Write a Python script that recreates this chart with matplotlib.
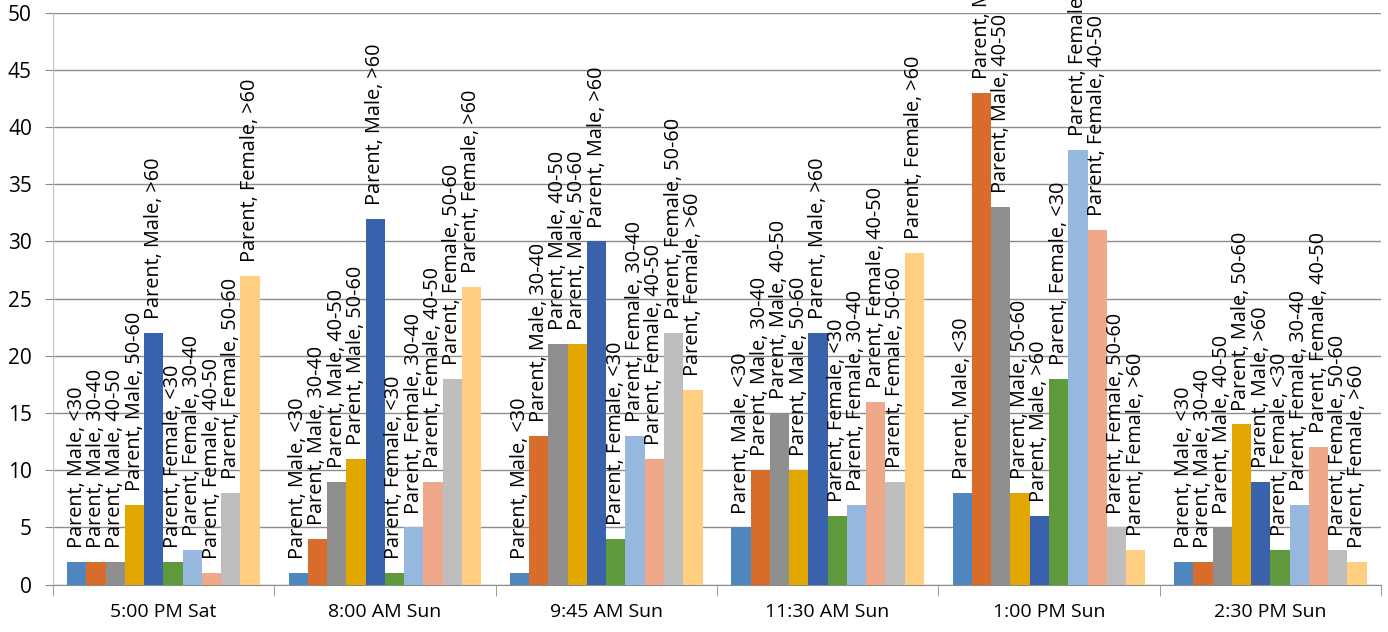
import numpy as np
import matplotlib.pyplot as plt

plt.rcParams['font.family'] = ['Open Sans', 'DejaVu Sans']

# Time slots (x categories)
times = ["5:00 PM Sat", "8:00 AM Sun", "9:45 AM Sun", "11:30 AM Sun", "1:00 PM Sun", "2:30 PM Sun"]

# Series names
series = ["Parent, Male, <30", "Parent, Male, 30-40", "Parent, Male, 40-50",
          "Parent, Male, 50-60", "Parent, Male, >60",
          "Parent, Female, <30", "Parent, Female, 30-40", "Parent, Female, 40-50",
          "Parent, Female, 50-60", "Parent, Female, >60"]

# Counts per series, one value per time slot
male_lt30 = [2, 1, 1, 5, 8, 2]
male_30_40 = [2, 4, 13, 10, 43, 2]
male_40_50 = [2, 9, 21, 15, 33, 5]
male_50_60 = [7, 11, 21, 10, 8, 14]
male_gt60 = [22, 32, 30, 22, 6, 9]
female_lt30 = [2, 1, 4, 6, 18, 3]
female_30_40 = [3, 5, 13, 7, 38, 7]
female_40_50 = [1, 9, 11, 16, 31, 12]
female_50_60 = [8, 18, 22, 9, 5, 3]
female_gt60 = [27, 26, 17, 29, 3, 2]

values = [male_lt30, male_30_40, male_40_50, male_50_60, male_gt60,
          female_lt30, female_30_40, female_40_50, female_50_60, female_gt60]

colors = ["#4F86BD", "#D86C2A", "#8F8F8F", "#E2A700", "#3A61AC",
          "#5E9A3C", "#97B8DE", "#F0A88A", "#BEBEBE", "#FFCE80"]

fig = plt.figure(figsize=(13.88, 6.32), dpi=100)
ax = fig.add_axes([0.038, 0.075, 0.957, 0.905])

n = len(series)
group_w = 0.87
bw = group_w / n
x = np.arange(len(times))

for i, (name, vals, c) in enumerate(zip(series, values, colors)):
    pos = x - group_w / 2 + bw * (i + 0.5)
    ax.bar(pos, vals, width=bw, color=c, zorder=3)
    for p, v in zip(pos, vals):
        ax.annotate(name, (p, v), xytext=(0, 10), textcoords='offset points',
                    rotation=90, ha='center', va='bottom', fontsize=14.3,
                    color='black', zorder=4, annotation_clip=False)

ax.set_xlim(-0.5, len(times) - 0.5)
ax.set_ylim(0, 50)
ax.set_yticks(range(0, 51, 5))
ax.yaxis.grid(True, color='#8C8C8C', linewidth=1, zorder=0)
ax.set_xticks(x)
ax.set_xticklabels(times, fontsize=14)
ax.set_xticks(np.arange(-0.5, len(times), 1), minor=True)
ax.tick_params(axis='x', which='major', length=0, pad=13)
ax.tick_params(axis='x', which='minor', length=8, color='#8C8C8C')
ax.tick_params(axis='y', length=6, color='#8C8C8C', labelsize=15, pad=9)

for s in ['top', 'right']:
    ax.spines[s].set_visible(False)
ax.spines['left'].set_color('#BFBFBF')
ax.spines['bottom'].set_color('#8C8C8C')

fig.savefig("out.png", dpi=100)
